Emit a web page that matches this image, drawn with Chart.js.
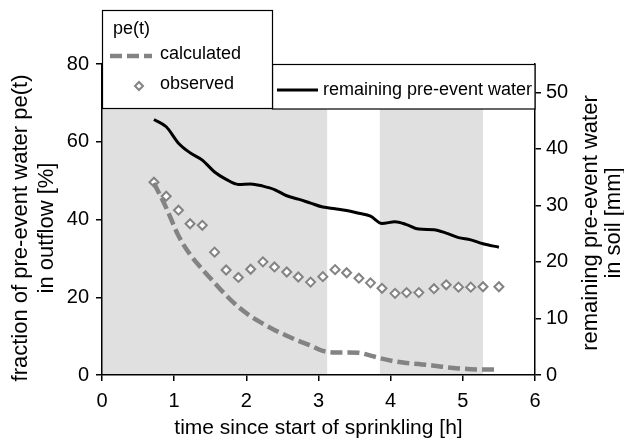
<!DOCTYPE html>
<html>
<head>
<meta charset="utf-8">
<script src="https://cdn.jsdelivr.net/npm/chart.js@4"></script>
<style>
  html, body { margin: 0; padding: 0; background: #fff; }
  #wrap { width: 624px; height: 439px; position: relative; }
</style>
</head>
<body>
<div id="wrap"><canvas id="chart"></canvas></div>
<script>
// time since start of sprinkling [h]
const hours = [0.72, 0.89, 1.06, 1.22, 1.39, 1.56, 1.72, 1.89, 2.06, 2.23, 2.39, 2.56, 2.72, 2.89, 3.06,
  3.23, 3.39, 3.56, 3.72, 3.88, 4.06, 4.22, 4.39, 4.60, 4.77, 4.94, 5.11, 5.28, 5.50];
// pe(t) observed [%]
const observedPe = [49.6, 46.0, 42.4, 38.9, 38.5, 31.6, 27.0, 25.1, 27.2, 29.1, 27.8, 26.5, 25.2, 23.9, 25.3,
  27.1, 26.3, 24.9, 23.7, 22.3, 21.0, 21.2, 21.2, 22.2, 23.2, 22.6, 22.6, 22.7, 22.7];
// pe(t) calculated [%]
const calculatedPe = [49.4, 43.0, 35.8, 31.0, 27.2, 23.7, 20.5, 17.5, 15.1, 13.2, 11.6, 10.1, 8.8, 7.6, 6.2,
  5.8, 5.8, 5.7, 5.0, 4.2, 3.5, 3.1, 2.8, 2.4, 2.0, 1.7, 1.5, 1.4, 1.4];
// remaining pre-event water in soil [mm]
const remainingWater = [45.2, 43.9, 41.0, 39.3, 38.0, 35.9, 34.6, 33.7, 33.8, 33.4, 32.8, 31.7, 31.1, 30.4, 29.7,
  29.4, 29.1, 28.6, 28.1, 26.8, 27.1, 26.6, 25.8, 25.7, 25.1, 24.3, 23.9, 23.2, 22.6];

const xTicks = [0, 1, 2, 3, 4, 5, 6];
const leftTicks = [0, 20, 40, 60, 80];
const rightTicks = [0, 10, 20, 30, 40, 50];
// sprinkling periods (grey bands) [h]
const sprinklingPeriods = [[0, 3.12], [3.85, 5.28]];

const FONT = "'Liberation Sans', Arial, Helvetica, sans-serif";
const GREY = '#838383';

function pts(ys) {
  return hours.map((h, i) => ({ x: h, y: ys[i] }));
}

function setTicks(values) {
  return (scale) => { scale.ticks = values.map((v) => ({ value: v })); };
}

// grey bands behind everything
const bandsPlugin = {
  id: 'bands',
  beforeDraw(chart) {
    const { ctx, chartArea: a, scales: { x } } = chart;
    ctx.save();
    ctx.fillStyle = '#e0e0e0';
    sprinklingPeriods.forEach(([from, to]) => {
      const x0 = x.getPixelForValue(from);
      const x1 = x.getPixelForValue(to);
      ctx.fillRect(x0, a.top, x1 - x0, a.bottom - a.top);
    });
    ctx.restore();
  }
};

// axis titles + the two legend boxes on top of the plot
const overlayPlugin = {
  id: 'overlay',
  afterDraw(chart) {
    const { ctx, chartArea: a } = chart;
    ctx.save();
    ctx.fillStyle = '#000';
    ctx.textAlign = 'center';
    ctx.textBaseline = 'middle';
    ctx.font = '21px ' + FONT;

    ctx.fillText('time since start of sprinkling [h]', (a.left + a.right) / 2, 428);

    ctx.font = '22px ' + FONT;
    const vtitle = (lines, xs, cy) => {
      lines.forEach((t, i) => {
        ctx.save();
        ctx.translate(xs[i], cy);
        ctx.rotate(-Math.PI / 2);
        ctx.fillText(t, 0, 0);
        ctx.restore();
      });
    };
    vtitle(['fraction of pre-event water pe(t)', 'in outflow [%]'], [21, 47], 228);
    vtitle(['remaining pre-event water', 'in soil [mm]'], [591, 614], 223);

    // legend box 2 (right)
    ctx.lineWidth = 1.2;
    ctx.strokeStyle = '#000';
    ctx.fillStyle = '#fff';
    ctx.fillRect(272, 64, 263, 45);
    ctx.strokeRect(272.5, 64.5, 262.5, 44.5);
    ctx.beginPath();
    ctx.lineWidth = 3;
    ctx.moveTo(277, 90);
    ctx.lineTo(318, 90);
    ctx.stroke();

    // legend box 1 (left)
    ctx.lineWidth = 1.2;
    ctx.fillStyle = '#fff';
    ctx.fillRect(102, 10, 170, 98);
    ctx.strokeRect(102.5, 10.5, 170, 98);

    ctx.beginPath();
    ctx.strokeStyle = GREY;
    ctx.lineWidth = 4.5;
    ctx.setLineDash([12, 5]);
    ctx.moveTo(110, 56);
    ctx.lineTo(152, 56);
    ctx.stroke();
    ctx.setLineDash([]);

    ctx.beginPath();
    ctx.lineWidth = 2;
    ctx.fillStyle = '#fff';
    ctx.moveTo(139, 82); ctx.lineTo(143, 86); ctx.lineTo(139, 90); ctx.lineTo(135, 86); ctx.closePath();
    ctx.fill();
    ctx.stroke();

    ctx.fillStyle = '#000';
    ctx.textAlign = 'left';
    ctx.font = '18px ' + FONT;
    ctx.fillText('pe(t)', 113, 29);
    ctx.fillText('calculated', 160, 54);
    ctx.fillText('observed', 160, 84);
    ctx.fillText('remaining pre-event water', 323, 90);
    ctx.restore();
  }
};

const axisGrid = { display: true, drawOnChartArea: false, drawTicks: true, tickLength: 6, color: '#000', lineWidth: 1.5 };
const axisBorder = { display: true, color: '#000', width: 1.5 };
const tickFont = { family: FONT, size: 20 };

new Chart(document.getElementById('chart'), {
  type: 'line',
  data: {
    datasets: [
      {
        label: 'calculated',
        data: pts(calculatedPe),
        yAxisID: 'y',
        borderColor: GREY,
        borderWidth: 4.5,
        borderDash: [12, 5],
        cubicInterpolationMode: 'monotone',
        pointRadius: 0,
        fill: false
      },
      {
        label: 'observed',
        data: pts(observedPe),
        yAxisID: 'y',
        showLine: false,
        pointStyle: 'rectRot',
        pointRadius: 4.5,
        pointBorderWidth: 2,
        pointBorderColor: GREY,
        pointBackgroundColor: '#fff'
      },
      {
        label: 'remaining pre-event water',
        data: pts(remainingWater),
        yAxisID: 'y2',
        borderColor: '#000',
        borderWidth: 3,
        cubicInterpolationMode: 'monotone',
        pointRadius: 0,
        fill: false
      }
    ]
  },
  plugins: [bandsPlugin, overlayPlugin],
  options: {
    responsive: true,
    maintainAspectRatio: false,
    animation: false,
    layout: { padding: { top: 64, left: 0, right: 0, bottom: 0 } },
    plugins: { legend: { display: false }, tooltip: { enabled: false } },
    scales: {
      x: {
        type: 'linear',
        position: 'bottom',
        min: 0,
        max: 6,
        afterBuildTicks: setTicks(xTicks),
        afterFit: (s) => { s.height = 64; },
        grid: axisGrid,
        border: axisBorder,
        ticks: { color: '#000', font: tickFont, padding: 8, maxRotation: 0 }
      },
      y: {
        position: 'left',
        min: 0,
        max: 80,
        afterBuildTicks: setTicks(leftTicks),
        afterFit: (s) => { s.width = 102; },
        grid: axisGrid,
        border: axisBorder,
        ticks: { color: '#000', font: tickFont, padding: 7 }
      },
      y2: {
        position: 'right',
        min: 0,
        max: 55,
        afterBuildTicks: setTicks(rightTicks),
        afterFit: (s) => { s.width = 89; },
        grid: axisGrid,
        border: axisBorder,
        ticks: { color: '#000', font: tickFont, padding: 5 }
      }
    }
  }
});
</script>
</body>
</html>
